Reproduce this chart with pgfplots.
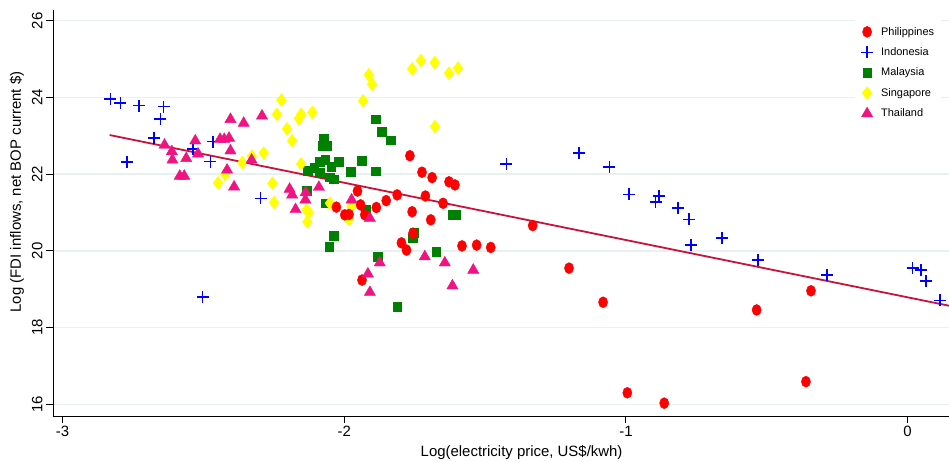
\documentclass[border=0pt]{standalone}
\usepackage{pgfplots}
\pgfplotsset{compat=1.18}
\usepackage{fontspec}
\setmainfont{Liberation Sans}
\definecolor{phlc}{RGB}{255,0,0}
\definecolor{idnc}{RGB}{0,0,255}
\definecolor{mysc}{RGB}{0,128,0}
\definecolor{sgpc}{RGB}{255,255,0}
\definecolor{thac}{RGB}{240,20,130}
\definecolor{fitc}{RGB}{200,20,60}
\definecolor{gridc}{RGB}{232,240,242}

\pgfplotstableread{
x y
-1.767 22.48
-1.724 22.05
-1.688 21.91
-1.628 21.80
-1.607 21.72
-1.953 21.56
-1.812 21.46
-1.712 21.43
-1.851 21.31
-1.886 21.13
-1.942 21.20
-2.028 21.14
-1.998 20.94
-1.983 20.95
-1.927 20.94
-1.759 21.02
-1.649 21.24
-1.693 20.81
-1.756 20.46
-1.797 20.21
-1.779 20.02
-1.582 20.13
-1.530 20.15
-1.480 20.09
-1.331 20.66
-1.202 19.55
-1.081 18.66
-0.536 18.46
-0.343 18.96
-0.995 16.30
-0.864 16.03
-0.361 16.59
-1.937 19.24
}\phl

\pgfplotstableread{
x y
-2.830 23.96
-2.795 23.86
-2.728 23.79
-2.641 23.76
-2.653 23.44
-2.676 22.95
-2.772 22.31
-2.537 22.66
-2.466 22.85
-2.475 22.33
-2.297 21.37
-2.503 18.80
-1.424 22.27
-1.167 22.55
-1.059 22.18
-0.990 21.47
-0.895 21.28
-0.883 21.43
-0.816 21.11
-0.777 20.82
-0.768 20.16
-0.659 20.34
-0.531 19.76
-0.287 19.37
0.018 19.56
0.047 19.50
0.065 19.21
0.115 18.71
0.160 19.25
}\idn

\pgfplotstableread{
x y
-1.889 23.43
-1.866 23.10
-1.836 22.89
-2.072 22.92
-2.077 22.74
-2.063 22.74
-2.087 22.33
-2.067 22.37
-2.046 22.20
-2.020 22.32
-2.107 22.17
-2.129 22.09
-2.087 22.04
-2.051 21.92
-2.037 21.87
-1.977 22.07
-1.937 22.35
-1.889 22.08
-2.134 21.57
-2.067 21.24
-1.924 21.07
-2.037 20.39
-2.054 20.11
-1.882 19.85
-1.812 18.54
-1.751 20.47
-1.756 20.33
-1.673 19.98
-1.617 20.94
-1.603 20.94
}\mys

\pgfplotstableread{
x y
-2.223 23.93
-2.239 23.56
-2.161 23.45
-2.153 23.56
-2.113 23.61
-2.203 23.18
-2.185 22.87
-2.286 22.55
-2.328 22.47
-2.362 22.30
-2.153 22.27
-2.448 21.77
-2.423 21.99
-2.255 21.76
-2.249 21.26
-2.134 21.07
-2.126 21.00
-2.131 20.76
-2.051 21.24
-1.983 20.82
-1.974 21.15
-1.678 23.24
-1.913 24.59
-1.901 24.34
-1.933 23.91
-1.759 24.74
-1.728 24.96
-1.679 24.91
-1.628 24.63
-1.596 24.76
}\sgp

\pgfplotstableread{
x y
-2.404 23.43
-2.357 23.33
-2.292 23.52
-2.529 22.87
-2.441 22.91
-2.426 22.91
-2.409 22.94
-2.638 22.76
-2.612 22.59
-2.610 22.37
-2.561 22.41
-2.519 22.53
-2.404 22.61
-2.584 21.95
-2.568 21.95
-2.329 22.37
-2.416 22.11
-2.391 21.67
-2.194 21.61
-2.185 21.46
-2.173 21.08
-2.137 21.52
-2.090 21.66
-2.138 21.33
-1.974 21.33
-1.909 20.85
-1.874 19.69
-1.916 19.40
-1.909 18.92
-1.714 19.85
-1.643 19.69
-1.616 19.09
-1.542 19.50
}\tha

\begin{document}
\begin{tikzpicture}
\begin{axis}[
  name=ax,
  scale only axis, width=896bp, height=406bp,
  xmin=-3.034, xmax=0.147, ymin=15.695, ymax=26.28,
  axis lines=left, axis line style={-, line width=0.9bp, black},
  xtick={-3,-2,-1,0}, ytick={16,18,20,22,24,26},
  tick align=outside, major tick length=7bp,
  tick style={black, line width=0.9bp},
  ymajorgrids, grid style={line width=1.4bp, color=gridc},
  /pgf/number format/assume math mode=true,
  ticklabel style={font=\fontsize{15}{18}\selectfont},
  yticklabel style={rotate=90, anchor=south},
  xlabel={Log(electricity price, US\$/kwh)},
  ylabel={Log (FDI inflows, net BOP current \$)},
  label style={font=\fontsize{15}{18}\selectfont},
  xlabel style={at={(axis description cs:0.523,-0.0911)}, anchor=center},
  ylabel style={at={(axis description cs:-0.0402,0.552)}, anchor=center},
  legend style={at={(axis description cs:0.895,0.9803)}, anchor=north west,
    draw=none, fill=white, font=\fontsize{11}{13}\selectfont,
    row sep=7bp, inner xsep=5bp, inner ysep=7bp,
    /tikz/every odd column/.append style={column sep=5bp}},
  legend cell align=left,
  legend image code/.code={\path[draw=none,fill=none] (-7bp,-6bp) rectangle (7bp,6bp); \draw[#1] plot coordinates {(0bp,0bp)};},
]
\addlegendimage{only marks, mark=*, mark size=4.6bp, phlc, mark options={yscale=1.2}}
\addlegendentry{Philippines}
\addlegendimage{only marks, mark=+, mark size=6bp, idnc, line width=1.6bp}
\addlegendentry{Indonesia}
\addlegendimage{only marks, mark=square*, mark size=4.3bp, mysc}
\addlegendentry{Malaysia}
\addlegendimage{only marks, mark=diamond*, mark size=6.5bp, sgpc}
\addlegendentry{Singapore}
\addlegendimage{only marks, mark=triangle*, mark size=6.5bp, thac}
\addlegendentry{Thailand}

\addplot[only marks, mark=square*, mark size=4.3bp, mysc, forget plot] table {\mys};
\addplot[only marks, mark=diamond*, mark size=6.5bp, sgpc, forget plot] table {\sgp};
\addplot[only marks, mark=+, mark size=6bp, idnc, line width=1.6bp, forget plot] table {\idn};
\addplot[only marks, mark=*, mark size=4.6bp, phlc, mark options={yscale=1.2}, forget plot] table {\phl};
\addplot[only marks, mark=triangle*, mark size=6.5bp, thac, forget plot] table {\tha};
\addplot[no marks, line width=1.8bp, fitc, forget plot] coordinates {(-2.833,23.02) (0.147,18.57)};
\end{axis}
\pgfresetboundingbox
\useasboundingbox ([xshift=-53bp,yshift=-46bp]ax.south west) rectangle ([yshift=10bp]ax.north east);
\end{tikzpicture}
\end{document}
